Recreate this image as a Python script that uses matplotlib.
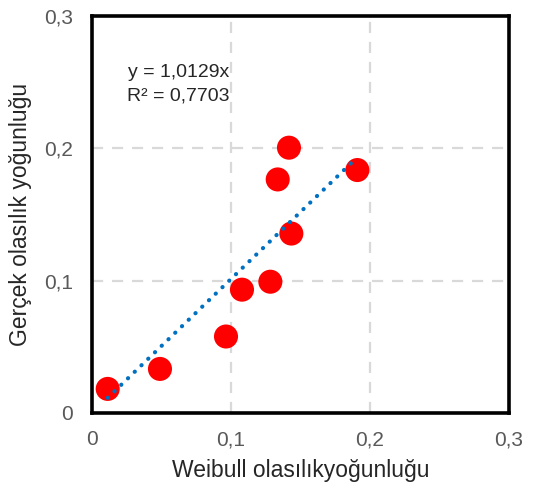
import matplotlib.pyplot as plt
import numpy as np

plt.rcParams['font.family'] = ['Liberation Sans', 'DejaVu Sans']

# values
weibull = [0.0113, 0.0489, 0.0964, 0.1079, 0.1283, 0.1336, 0.1417, 0.1434, 0.1909]
gercek = [0.0182, 0.0333, 0.0578, 0.0932, 0.0992, 0.1765, 0.2005, 0.1356, 0.1836]
slope = 1.0129
r2 = 0.7703
ticks = [0, 0.1, 0.2, 0.3]
tick_labels = ['0', '0,1', '0,2', '0,3']

fig = plt.figure(figsize=(5.45, 4.93), dpi=100)
ax = fig.add_axes([0.1688, 0.1623, 0.7652, 0.8052])

# trendline through origin, spanning the data range
xt = np.linspace(min(weibull), 0.1875, 2)
ax.plot(xt, slope * xt, color='#0070c0', lw=3.0, linestyle=(0, (0.05, 2.2)),
        dash_capstyle='round', zorder=3)

ax.scatter(weibull, gercek, s=300, color='#ff0000', edgecolors='none', zorder=2)

ax.set_xlim(0, 0.3)
ax.set_ylim(0, 0.3)
ax.set_xticks(ticks)
ax.set_yticks(ticks)
ax.set_xticklabels(tick_labels)
ax.set_yticklabels(tick_labels)
ax.tick_params(length=0, labelsize=15, colors='#595959')
ax.tick_params(axis='x', pad=12.5)
ax.tick_params(axis='y', pad=13.5)

for v in ticks[1:3]:
    ax.axvline(v, color='#d9d9d9', lw=1.6, linestyle=(0, (5, 4)), zorder=1)
    ax.axhline(v, color='#d9d9d9', lw=1.6, linestyle=(0, (5, 4)), zorder=1)

for sp in ax.spines.values():
    sp.set_linewidth(2.6)
    sp.set_color('black')

ax.set_xlabel('Weibull olasılıkyoğunluğu', fontsize=16.5, color='#262626', labelpad=7)
ax.set_ylabel('Gerçek olasılık yoğunluğu', fontsize=16.5, color='#262626', labelpad=9)

ax.text(0.0986, 0.2576, f'y = {slope:.4f}x'.replace('.', ','), fontsize=14,
        color='#262626', ha='right', va='center')
ax.text(0.0986, 0.2394, f'R² = {r2:.4f}'.replace('.', ','), fontsize=14,
        color='#262626', ha='right', va='center')

fig.savefig('out.png', dpi=100)
